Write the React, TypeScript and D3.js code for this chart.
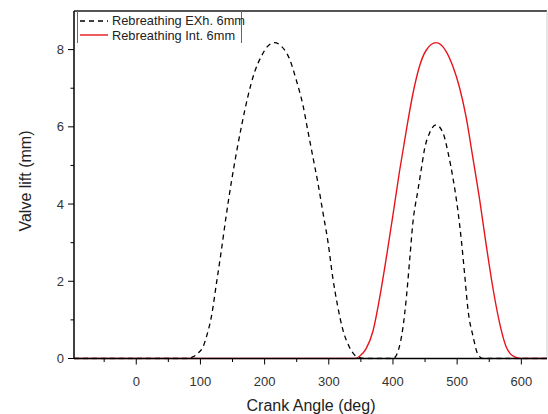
import React from "react";
import * as d3 from "d3";

const exhAngles = [-97, 78, 88, 97, 104, 110, 117, 125, 132, 140, 148, 156, 164, 174, 184, 195, 205, 215, 226, 239, 249, 260, 267, 275, 283, 291, 299, 306, 314, 322, 332, 341, 348, 355, 400, 404, 409, 415, 421, 426, 431, 439, 444, 449, 457, 467, 478, 486, 493, 501, 507, 512, 517, 525, 532, 540, 640];
const exhLift = [0, 0, 0.04, 0.15, 0.3, 0.6, 1.08, 1.95, 2.73, 3.68, 4.55, 5.32, 6.02, 6.79, 7.4, 7.83, 8.09, 8.18, 8.09, 7.75, 7.23, 6.54, 5.93, 5.24, 4.55, 3.77, 2.99, 2.12, 1.34, 0.74, 0.3, 0.08, 0.02, 0, 0, 0.05, 0.25, 0.74, 1.6, 2.55, 3.51, 4.37, 4.89, 5.41, 5.84, 6.05, 5.84, 5.32, 4.72, 3.85, 2.99, 2.12, 1.25, 0.56, 0.12, 0, 0];

const intAngles = [-97, 340, 348, 358, 369, 379, 390, 400, 410, 421, 431, 441, 452, 467, 483, 493, 504, 514, 524, 535, 545, 556, 566, 576, 583, 590, 597, 640];
const intLift = [0, 0, 0.06, 0.25, 0.72, 1.55, 2.65, 3.72, 4.83, 5.93, 6.85, 7.55, 7.99, 8.18, 7.95, 7.58, 7.0, 6.25, 5.25, 4.12, 2.97, 1.8, 0.93, 0.32, 0.12, 0.04, 0, 0];

const xMajor = [0, 100, 200, 300, 400, 500, 600];
const xMinor = [-50, 50, 150, 250, 350, 450, 550];
const yMajor = [0, 2, 4, 6, 8];
const yMinor = [1, 3, 5, 7];

const seriesNames = ["Rebreathing EXh. 6mm", "Rebreathing Int. 6mm"];
const xTitle = "Crank Angle (deg)";
const yTitle = "Valve lift (mm)";

export default function App() {
  const W = 548, H = 414;
  const left = 74, right = 547, top = 11, bottom = 358.5;
  const x = d3.scaleLinear().domain([-97, 640]).range([left, right]);
  const y = d3.scaleLinear().domain([0, 9]).range([bottom, top]);
  const line = d3.line<[number, number]>()
    .x((d) => x(d[0]))
    .y((d) => y(d[1]))
    .curve(d3.curveMonotoneX);
  const exh = line(exhAngles.map((a, i) => [a, exhLift[i]] as [number, number])) || "";
  const inl = line(intAngles.map((a, i) => [a, intLift[i]] as [number, number])) || "";
  const font = "Arial, 'Liberation Sans', sans-serif";
  return (
    <svg width={W} height={H} style={{ position: "absolute", left: 0, top: 0, background: "#fff" }}>
      <defs>
        <clipPath id="plot">
          <rect x={left} y={top} width={right - left} height={bottom - top + 1} />
        </clipPath>
      </defs>
      <rect x={0} y={0} width={W} height={H} fill="#fff" />
      {/* frame */}
      <line x1={left} x2={right} y1={top} y2={top} stroke="#555" strokeWidth={2} />
      <line x1={right} x2={right} y1={top} y2={bottom} stroke="#ccc" strokeWidth={1} />
      {/* curves */}
      <g clipPath="url(#plot)">
        <path d={exh} fill="none" stroke="#000" strokeWidth={1.3} strokeDasharray="5,4" />
        <path d={inl} fill="none" stroke="#e8141b" strokeWidth={1.4} />
      </g>
      {/* axes */}
      <line x1={left} x2={left} y1={top} y2={bottom} stroke="#000" strokeWidth={1.5} />
      <line x1={left} x2={right} y1={bottom} y2={bottom} stroke="#000" strokeWidth={1.5} />
      {xMajor.map((v) => (
        <g key={"xm" + v}>
          <line x1={x(v)} x2={x(v)} y1={bottom} y2={bottom + 6} stroke="#000" strokeWidth={1} />
          <text x={x(v)} y={bottom + 27} textAnchor="middle" fontFamily={font} fontSize={13} fill="#333">{v}</text>
        </g>
      ))}
      {xMinor.map((v) => (
        <line key={"xn" + v} x1={x(v)} x2={x(v)} y1={bottom} y2={bottom + 3.5} stroke="#000" strokeWidth={1} />
      ))}
      {yMajor.map((v) => (
        <g key={"ym" + v}>
          <line x1={left - 6} x2={left} y1={y(v)} y2={y(v)} stroke="#000" strokeWidth={1} />
          <text x={left - 10} y={y(v) + 4.5} textAnchor="end" fontFamily={font} fontSize={13} fill="#333">{v}</text>
        </g>
      ))}
      {yMinor.map((v) => (
        <line key={"yn" + v} x1={left - 3.5} x2={left} y1={y(v)} y2={y(v)} stroke="#000" strokeWidth={1} />
      ))}
      {/* titles */}
      <text x={311} y={411} textAnchor="middle" fontFamily={font} fontSize={16} fill="#222">{xTitle}</text>
      <text transform="translate(31,181) rotate(-90)" textAnchor="middle" fontFamily={font} fontSize={16} fill="#222">{yTitle}</text>
      {/* legend */}
      <line x1={77.5} x2={77.5} y1={top} y2={43} stroke="#666" strokeWidth={1} />
      <line x1={241.5} x2={241.5} y1={top} y2={43} stroke="#666" strokeWidth={1} />
      <line x1={80} x2={108} y1={21} y2={21} stroke="#000" strokeWidth={1.3} strokeDasharray="5,4" />
      <text x={112} y={25} fontFamily={font} fontSize={12.8} fill="#222">{seriesNames[0]}</text>
      <line x1={80} x2={108} y1={35} y2={35} stroke="#e8141b" strokeWidth={1.4} />
      <text x={112} y={39.5} fontFamily={font} fontSize={12.8} fill="#222">{seriesNames[1]}</text>
    </svg>
  );
}
